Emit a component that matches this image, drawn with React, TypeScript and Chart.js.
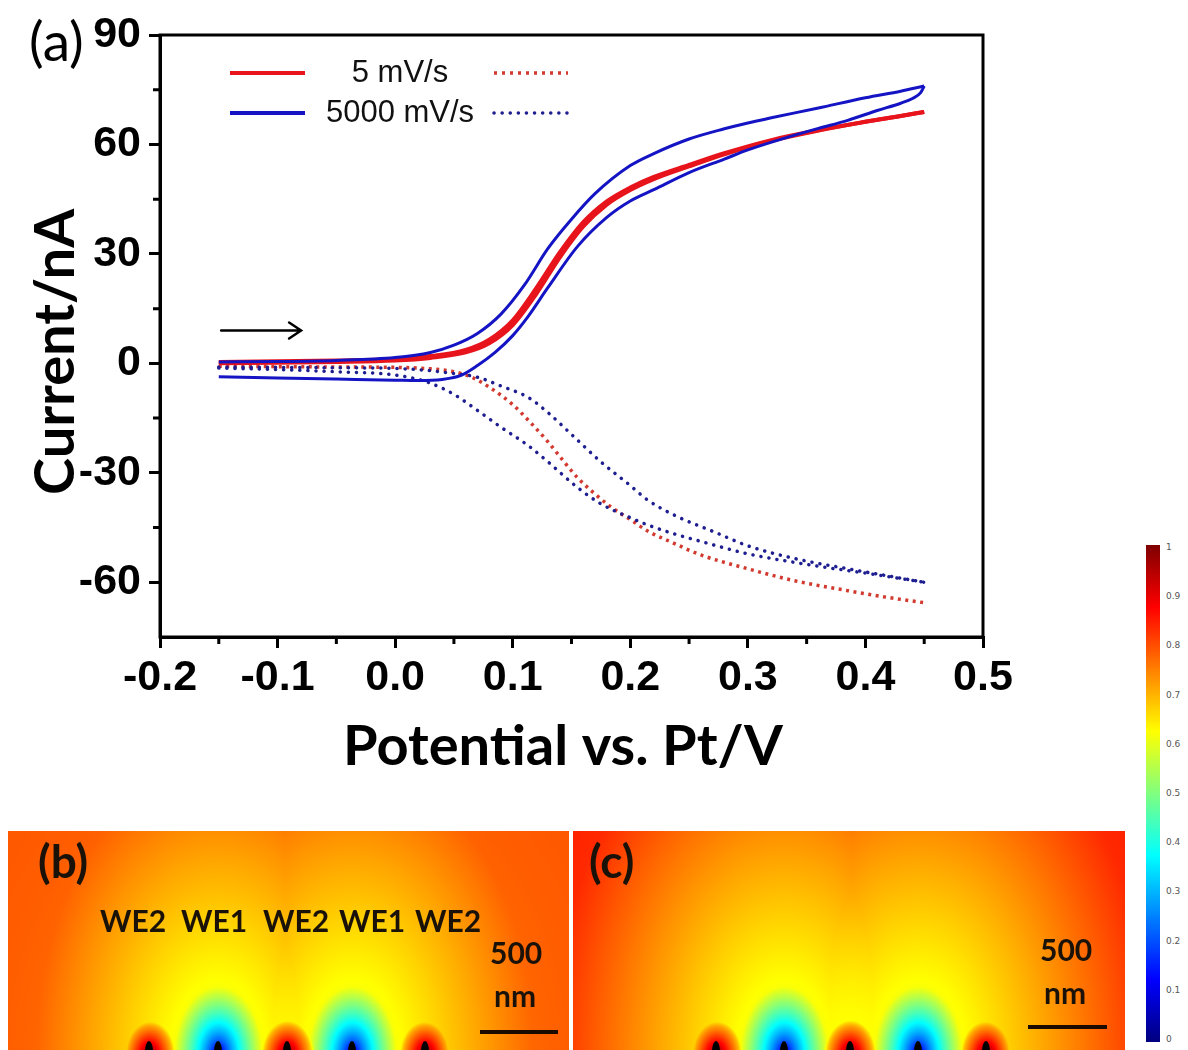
import React, { useEffect, useRef } from 'react';
import { Chart, registerables } from 'chart.js';

Chart.register(...registerables);

// ---- cyclic voltammetry data (potential in V vs. Pt, current in nA) ----
// 5 mV/s generator electrode, forward and reverse scans
const E_RED = [-0.15, -0.1, -0.05, 0, 0.03, 0.06, 0.08, 0.1, 0.12, 0.14, 0.16, 0.18, 0.2, 0.22, 0.25, 0.28, 0.32, 0.36, 0.4, 0.43, 0.45];
const RED_FWD = [0.0, 0.2, 0.4, 0.8, 1.5, 3.0, 5.5, 10.5, 19, 29, 37.5, 43.5, 47.5, 50.5, 54, 57.3, 61, 63.8, 66.2, 67.8, 68.9];
const RED_REV = [0.4, 0.6, 0.8, 1.2, 2.0, 3.7, 6.5, 11.8, 20.6, 30.4, 38.7, 44.4, 48.2, 51.1, 54.4, 57.6, 61.2, 63.9, 66.2, 67.8, 68.9];

// 5000 mV/s generator electrode, forward (lower) and reverse (upper) branches
const E_BLUE_FWD = [-0.15, -0.1, -0.05, 0, 0.02, 0.04, 0.056, 0.07, 0.085, 0.1, 0.113, 0.13, 0.155, 0.18, 0.2, 0.22, 0.25, 0.28, 0.3, 0.33, 0.36, 0.385, 0.41, 0.43, 0.44, 0.447, 0.45];
const BLUE_FWD = [-3.7, -4.0, -4.3, -4.6, -4.7, -4.4, -3.3, -0.6, 3.0, 7.6, 12.8, 20.8, 32, 40, 44.5, 47.6, 52.3, 56, 58.5, 61.6, 64.4, 66.6, 69.3, 71.3, 72.6, 74.2, 76];
const E_BLUE_REV = [-0.15, -0.1, -0.05, 0, 0.03, 0.05, 0.07, 0.09, 0.11, 0.13, 0.15, 0.17, 0.2, 0.22, 0.25, 0.28, 0.3, 0.32, 0.36, 0.4, 0.43, 0.45];
const BLUE_REV = [0.4, 0.5, 0.8, 1.6, 3.0, 5.0, 8.2, 13.5, 21.5, 31.5, 39.5, 46.5, 54.2, 57.5, 61.5, 64.3, 65.9, 67.3, 70, 72.8, 74.6, 76];

// collector electrode currents (dotted)
const E_RED_DOT = [-0.15, -0.1, -0.05, 0, 0.03, 0.05, 0.065, 0.08, 0.1, 0.115, 0.13, 0.14, 0.155, 0.17, 0.185, 0.2, 0.215, 0.235, 0.26, 0.3, 0.34, 0.385, 0.42, 0.45];
const RED_DOT = [-0.8, -0.9, -1.0, -1.1, -1.5, -2.3, -3.8, -6.5, -11.3, -16.2, -21.5, -25.5, -31.3, -35.8, -39.7, -42.8, -46, -49, -52.5, -56.3, -59.6, -62.3, -64.2, -65.6];
const E_BLUE_DOT_A = [-0.15, -0.1, -0.05, 0, 0.03, 0.05, 0.07, 0.09, 0.113, 0.13, 0.155, 0.175, 0.2, 0.215, 0.24, 0.27, 0.3, 0.34, 0.385, 0.42, 0.45];
const BLUE_DOT_A = [-1.0, -1.1, -1.2, -1.4, -2.0, -2.8, -3.8, -6.2, -9.3, -13.5, -21, -27, -33.5, -37.5, -42, -46, -50, -53.5, -56.3, -58.3, -60];
const E_BLUE_DOT_B = [-0.15, -0.1, -0.05, 0, 0.028, 0.05, 0.07, 0.09, 0.113, 0.13, 0.155, 0.175, 0.2, 0.215, 0.235, 0.26, 0.3, 0.36, 0.4, 0.43, 0.45];
const BLUE_DOT_B = [-1.3, -1.7, -2.3, -3.2, -5.2, -8.5, -12.9, -17.5, -22.5, -27, -34, -38.5, -42.3, -44.3, -46.5, -48.8, -52.2, -55.6, -57.5, -59, -60];

// axes
const X_TICKS = [-0.2, -0.1, 0, 0.1, 0.2, 0.3, 0.4, 0.5];
const X_MINOR = [-0.15, -0.05, 0.05, 0.15, 0.25, 0.35, 0.45];
const Y_TICKS = [-60, -30, 0, 30, 60, 90];
const Y_MINOR = [-45, -15, 15, 45, 75];
const X_TITLE = 'Potential vs. Pt/V';
const Y_TITLE = 'Current/nA';
const LEGEND_LABELS = ['5 mV/s', '5000 mV/s'];
const COLORBAR_TICKS = [1, 0.9, 0.8, 0.7, 0.6, 0.5, 0.4, 0.3, 0.2, 0.1, 0];
const ELECTRODE_LABELS = ['WE2', 'WE1', 'WE2', 'WE1', 'WE2'];

const RED = '#e8141c';
const RED_DOTTED = '#d23a30';
const BLUE = '#1414c4';
const BLUE_DOTTED = '#1e1e90';

const pts = (xs: number[], ys: number[]) => xs.map((x, i) => ({ x, y: ys[i] }));

const TICK_FONT = { family: "'Liberation Sans', Arial, sans-serif", size: 43, weight: 'bold' as const };
const TITLE_CSS = "bold 56px Lato, 'Open Sans', sans-serif";

// frame, minor ticks, axis titles, in-plot legend and scan-direction arrow
const decorations = {
  id: 'cvDecorations',
  afterDraw(chart: any) {
    const { ctx, chartArea: a, scales } = chart;
    const xs = scales.x;
    const ys = scales.y;
    ctx.save();
    ctx.strokeStyle = '#000';
    ctx.lineWidth = 3;
    ctx.strokeRect(a.left, a.top, a.right - a.left, a.bottom - a.top);
    ctx.beginPath();
    X_MINOR.forEach((v) => {
      const px = xs.getPixelForValue(v);
      ctx.moveTo(px, a.bottom);
      ctx.lineTo(px, a.bottom + 7);
    });
    Y_MINOR.forEach((v) => {
      const py = ys.getPixelForValue(v);
      ctx.moveTo(a.left, py);
      ctx.lineTo(a.left - 7, py);
    });
    ctx.stroke();

    // axis titles
    ctx.fillStyle = '#000';
    ctx.font = TITLE_CSS;
    ctx.textAlign = 'center';
    ctx.textBaseline = 'alphabetic';
    ctx.fillText(X_TITLE, a.left + 403, a.bottom + 128);
    ctx.save();
    ctx.translate(a.left - 86, a.top + 317);
    ctx.rotate(-Math.PI / 2);
    ctx.fillText(Y_TITLE, 0, 0);
    ctx.restore();

    // legend
    const rows = [
      { label: LEGEND_LABELS[0], solid: RED, dotted: RED_DOTTED, dash: [3, 5], cap: 'butt' },
      { label: LEGEND_LABELS[1], solid: BLUE, dotted: BLUE_DOTTED, dash: [0.1, 8], cap: 'round' },
    ];
    rows.forEach((row, i) => {
      const y = a.top + 38 + i * 40;
      ctx.setLineDash([]);
      ctx.lineCap = 'butt';
      ctx.strokeStyle = row.solid;
      ctx.lineWidth = 4;
      ctx.beginPath();
      ctx.moveTo(a.left + 70, y);
      ctx.lineTo(a.left + 145, y);
      ctx.stroke();
      ctx.fillStyle = '#111';
      ctx.font = "31px 'Liberation Sans', Arial, sans-serif";
      ctx.textAlign = 'center';
      ctx.textBaseline = 'middle';
      ctx.fillText(row.label, a.left + 240, y);
      ctx.strokeStyle = row.dotted;
      ctx.lineWidth = 3.5;
      ctx.lineCap = row.cap;
      ctx.setLineDash(row.dash);
      ctx.beginPath();
      ctx.moveTo(a.left + 334, y);
      ctx.lineTo(a.left + 408, y);
      ctx.stroke();
    });

    // scan direction arrow
    ctx.setLineDash([]);
    ctx.lineCap = 'round';
    ctx.strokeStyle = '#000';
    ctx.lineWidth = 2.5;
    const x0 = xs.getPixelForValue(-0.148);
    const x1 = xs.getPixelForValue(-0.08);
    const ay = ys.getPixelForValue(9);
    ctx.beginPath();
    ctx.moveTo(x0, ay);
    ctx.lineTo(x1, ay);
    ctx.moveTo(x1 - 12, ay - 8);
    ctx.lineTo(x1, ay);
    ctx.lineTo(x1 - 12, ay + 8);
    ctx.stroke();
    ctx.restore();
  },
};

// jet colour map used by the concentration maps
function jet(v: number): [number, number, number] {
  const c = (t: number) => Math.max(0, Math.min(1, t));
  return [
    Math.round(255 * c(1.5 - Math.abs(4 * v - 3))),
    Math.round(255 * c(1.5 - Math.abs(4 * v - 2))),
    Math.round(255 * c(1.5 - Math.abs(4 * v - 1))),
  ];
}

type FieldCfg = { sinks: number[]; sources: number[]; center: number; base: number; amp: number; wx: number; wy: number };

const FIELD_B: FieldCfg = { sinks: [210, 344], sources: [141, 279, 417], center: 279, base: 0.63, amp: 0.16, wx: 160, wy: 180 };
const FIELD_C: FieldCfg = { sinks: [211, 345], sources: [143, 277, 413], center: 277, base: 0.62, amp: 0.23, wx: 185, wy: 230 };

function drawField(canvas: HTMLCanvasElement, cfg: FieldCfg) {
  const ctx = canvas.getContext('2d')!;
  const w = canvas.width;
  const h = canvas.height;
  const img = ctx.createImageData(w, h);
  const yb = h + 4;
  for (let y = 0; y < h; y++) {
    for (let x = 0; x < w; x++) {
      const dx = (x - cfg.center) / cfg.wx;
      const dy = (y - yb) / cfg.wy;
      let v = cfg.base + cfg.amp * (1 - Math.exp(-(dx * dx + dy * dy)));
      for (const s of cfg.sinks) {
        const r = Math.hypot((x - s) / 44, (y - yb) / 68);
        const sv = r < 1 ? 0.02 + 0.6 * Math.pow(r, 0.7) : 0.62 + 0.05 * (r - 1);
        v = Math.min(v, sv);
      }
      for (const s of cfg.sources) {
        const r = Math.hypot((x - s) / 20, (y - yb) / 27);
        const hv = 1 - 0.27 * r - 0.5 * Math.max(0, r - 1) ** 2;
        v = Math.max(v, hv);
      }
      const [r, g, b] = jet(Math.max(0, Math.min(1, v)));
      const i = (y * w + x) * 4;
      img.data[i] = r;
      img.data[i + 1] = g;
      img.data[i + 2] = b;
      img.data[i + 3] = 255;
    }
  }
  ctx.putImageData(img, 0, 0);
  ctx.fillStyle = '#000';
  [...cfg.sinks, ...cfg.sources].forEach((s) => {
    ctx.beginPath();
    ctx.ellipse(s, h + 2, 4, 11, 0, 0, Math.PI * 2);
    ctx.fill();
  });
}

function drawColorbar(canvas: HTMLCanvasElement) {
  const ctx = canvas.getContext('2d')!;
  const h = canvas.height;
  for (let y = 0; y < h; y++) {
    const [r, g, b] = jet(1 - y / (h - 1));
    ctx.fillStyle = `rgb(${r},${g},${b})`;
    ctx.fillRect(0, y, canvas.width, 1);
  }
}

export default function App() {
  const chartRef = useRef<HTMLCanvasElement | null>(null);
  const bRef = useRef<HTMLCanvasElement | null>(null);
  const cRef = useRef<HTMLCanvasElement | null>(null);
  const barRef = useRef<HTMLCanvasElement | null>(null);

  useEffect(() => {
    const base = { showLine: true, pointRadius: 0, fill: false, cubicInterpolationMode: 'monotone' as const };
    const chart = new Chart(chartRef.current!, {
      type: 'scatter',
      data: {
        datasets: [
          { ...base, label: '5000 mV/s fwd', data: pts(E_BLUE_FWD, BLUE_FWD), borderColor: BLUE, borderWidth: 3, order: 1 },
          { ...base, label: '5000 mV/s rev', data: pts(E_BLUE_REV, BLUE_REV), borderColor: BLUE, borderWidth: 3, order: 1 },
          { ...base, label: '5 mV/s fwd', data: pts(E_RED, RED_FWD), borderColor: RED, borderWidth: 4, order: 2 },
          { ...base, label: '5 mV/s rev', data: pts(E_RED, RED_REV), borderColor: RED, borderWidth: 4, order: 2 },
          { ...base, label: '5 mV/s collector', data: pts(E_RED_DOT, RED_DOT), borderColor: RED_DOTTED, borderWidth: 3.5, borderDash: [3, 4.5], order: 4 },
          { ...base, label: '5000 mV/s collector a', data: pts(E_BLUE_DOT_A, BLUE_DOT_A), borderColor: BLUE_DOTTED, borderWidth: 3.5, borderDash: [0.1, 8], borderCapStyle: 'round', order: 3 },
          { ...base, label: '5000 mV/s collector b', data: pts(E_BLUE_DOT_B, BLUE_DOT_B), borderColor: BLUE_DOTTED, borderWidth: 3.5, borderDash: [0.1, 8], borderCapStyle: 'round', order: 3 },
        ] as any,
      },
      options: {
        animation: false,
        responsive: false,
        devicePixelRatio: 1,
        layout: { padding: { top: 35, right: 77, bottom: 0, left: 0 } },
        plugins: { legend: { display: false }, tooltip: { enabled: false } },
        scales: {
          x: {
            type: 'linear',
            min: -0.2,
            max: 0.5,
            afterBuildTicks: (s: any) => { s.ticks = X_TICKS.map((v) => ({ value: v })); },
            afterFit: (s: any) => { s.height = 163; },
            ticks: { font: TICK_FONT, color: '#000', padding: 4, maxRotation: 0, autoSkip: false, callback: (v: any) => Number(v).toFixed(1) },
            grid: { drawOnChartArea: false, drawTicks: true, tickLength: 11, tickWidth: 3, tickColor: '#000', lineWidth: 3, color: '#000' },
            border: { display: true, width: 3, color: '#000' },
          },
          y: {
            type: 'linear',
            min: -75,
            max: 90,
            afterBuildTicks: (s: any) => { s.ticks = Y_TICKS.map((v) => ({ value: v })); },
            afterFit: (s: any) => { s.width = 160; },
            ticks: { font: TICK_FONT, color: '#000', padding: 8, autoSkip: false, callback: (v: any) => String(v) },
            grid: { drawOnChartArea: false, drawTicks: true, tickLength: 11, tickWidth: 3, tickColor: '#000', lineWidth: 3, color: '#000' },
            border: { display: true, width: 3, color: '#000' },
          },
        },
      },
      plugins: [decorations],
    });
    drawField(bRef.current!, FIELD_B);
    drawField(cRef.current!, FIELD_C);
    drawColorbar(barRef.current!);
    return () => chart.destroy();
  }, []);

  const abs = (left: number, top: number, extra: React.CSSProperties = {}): React.CSSProperties => ({
    position: 'absolute', left, top, margin: 0, lineHeight: 1, whiteSpace: 'nowrap', ...extra,
  });
  const panelText: React.CSSProperties = { fontFamily: "Lato, 'Open Sans', sans-serif", fontWeight: 700, color: '#1a1208' };
  const WE_X = [100, 181, 263, 339, 415];

  return (
    <div style={{ position: 'absolute', left: 0, top: 0, width: 1188, height: 1050, overflow: 'hidden', background: '#fff' }}>
      <canvas ref={chartRef} width={1060} height={800} style={abs(0, 0)} />
      <div style={abs(29, 13, { fontFamily: "Lato, 'Open Sans', sans-serif", fontSize: 55, color: '#000' })}>(a)</div>

      <canvas ref={bRef} width={561} height={219} style={abs(8, 831)} />
      <canvas ref={cRef} width={552} height={219} style={abs(573, 831)} />

      <div style={abs(38, 838, { ...panelText, fontSize: 46 })}>(b)</div>
      {ELECTRODE_LABELS.map((t, i) => (
        <div key={i} style={abs(WE_X[i], 905, { ...panelText, fontSize: 30 })}>{t}</div>
      ))}
      <div style={abs(490, 937, { ...panelText, fontSize: 30 })}>500</div>
      <div style={abs(494, 980, { ...panelText, fontSize: 30 })}>nm</div>
      <div style={abs(480, 1030, { width: 78, height: 4, background: '#1a0a00' })} />

      <div style={abs(589, 838, { ...panelText, fontSize: 46 })}>(c)</div>
      <div style={abs(1040, 934, { ...panelText, fontSize: 30 })}>500</div>
      <div style={abs(1044, 977, { ...panelText, fontSize: 30 })}>nm</div>
      <div style={abs(1028, 1025, { width: 79, height: 4, background: '#1a0a00' })} />

      <canvas ref={barRef} width={14} height={497} style={abs(1146, 545)} />
      {COLORBAR_TICKS.map((v) => (
        <div key={v} style={abs(1166, 543 + (1 - v) * 492, { fontFamily: "'DejaVu Sans', sans-serif", fontSize: 9, color: '#555' })}>{String(v)}</div>
      ))}
    </div>
  );
}
